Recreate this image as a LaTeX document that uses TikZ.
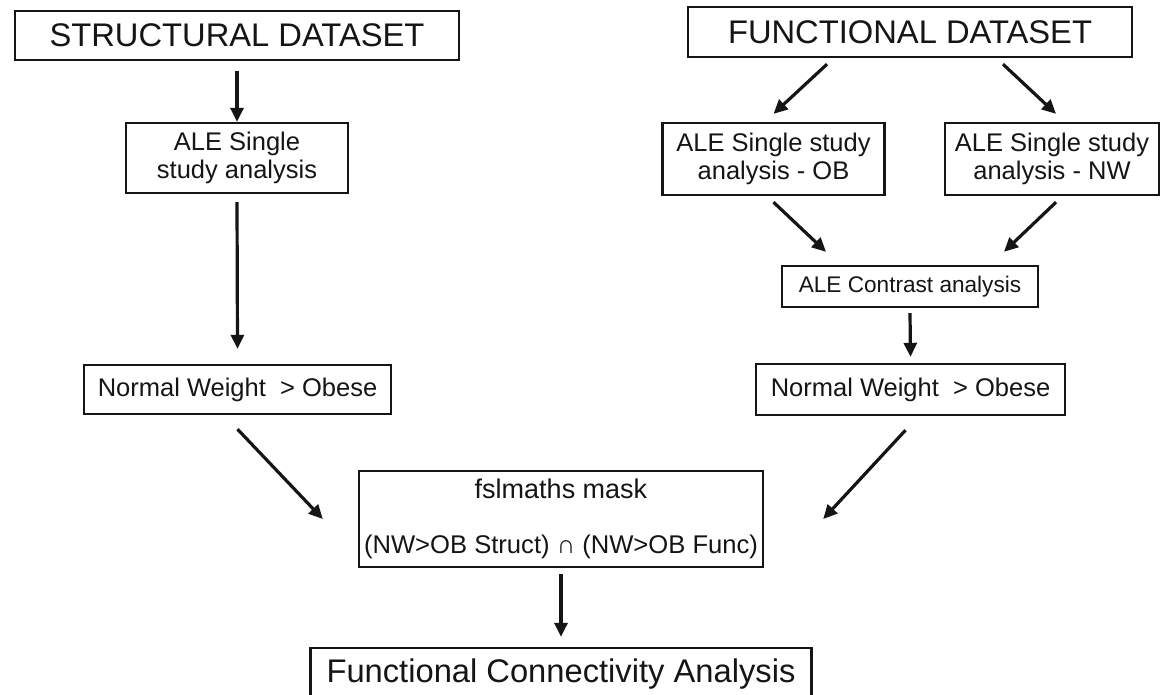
\documentclass[tikz,border=0pt]{standalone}
\usepackage{fontspec}
\setmainfont{Liberation Sans}
\usetikzlibrary{arrows.meta,calc}
\definecolor{ink}{HTML}{151515}
\begin{document}
\begin{tikzpicture}[x=1pt,y=-1pt,
  box/.style={draw=ink,line width=2.4pt,inner sep=0pt,text=ink,align=center},
  arr/.style={draw=ink,line width=3.2pt,-{Triangle[width=13pt,length=14pt]}},
  big/.style={font=\fontsize{32.7}{36}\selectfont},
  mid/.style={font=\fontsize{25.5}{28}\selectfont}]
\clip (0,0) rectangle (1161,694);
\fill[white] (0,0) rectangle (1161,694);

\node[box,big,minimum width=444pt,minimum height=49pt] (struct) at (237,35.5) {STRUCTURAL DATASET};
\node[box,big,minimum width=444pt,minimum height=50pt] (func) at (910,32) {FUNCTIONAL DATASET};
\node[box,mid,minimum width=222pt,minimum height=70pt] (aleS) at (237,158) {ALE Single\\study analysis};
\node[box,mid,minimum width=222pt,minimum height=72pt] (aleOB) at (773.5,159) {ALE Single study\\analysis - OB};
\node[box,mid,minimum width=214pt,minimum height=72pt] (aleNW) at (1052,159) {ALE Single study\\analysis - NW};
\node[box,font=\fontsize{22.6}{25}\selectfont,minimum width=256pt,minimum height=41pt] (contrast) at (910,286.5) {ALE Contrast analysis};
\node[box,mid,minimum width=307pt,minimum height=49pt] (nwobL) at (237.5,389.5) {Normal Weight\ \ > Obese};
\node[box,mid,minimum width=309pt,minimum height=51pt] (nwobR) at (910.5,389.5) {Normal Weight\ \ > Obese};
\node[box,font=\fontsize{25.6}{55}\selectfont,minimum width=404pt,minimum height=96pt] (fsl) at (561,519) {{\fontsize{27}{55}\selectfont fslmaths mask}\\(NW>OB Struct) ∩ (NW>OB Func)};
\node[box,big,minimum width=501pt,minimum height=52pt] (fca) at (561,674) {Functional Connectivity Analysis};

\draw[arr] ([yshift=-10pt]struct.south) -- (aleS.north);
\draw[arr] ([xshift=-83pt,yshift=-6pt]func.south) -- ([yshift=8pt]aleOB.north);
\draw[arr] ([xshift=93pt,yshift=-6pt]func.south) -- ([xshift=4pt,yshift=8pt]aleNW.north);
\draw[arr] ([yshift=-8pt]aleS.south) -- ([yshift=15pt]nwobL.north);
\draw[arr] ([yshift=-6pt]aleOB.south) -- ([xshift=-84pt,yshift=13pt]contrast.north);
\draw[arr] ([xshift=4pt,yshift=-6pt]aleNW.south) -- ([xshift=94pt,yshift=13pt]contrast.north);
\draw[arr] ([yshift=-5pt]contrast.south) -- ([yshift=6pt]nwobR.north);
\draw[arr] ([yshift=-14pt]nwobL.south) -- ([xshift=-35pt]fsl.west);
\draw[arr] ([xshift=-5pt,yshift=-14pt]nwobR.south) -- ([xshift=59pt]fsl.east);
\draw[arr] ([yshift=-6pt]fsl.south) -- ([yshift=10pt]fca.north);
\end{tikzpicture}
\end{document}
